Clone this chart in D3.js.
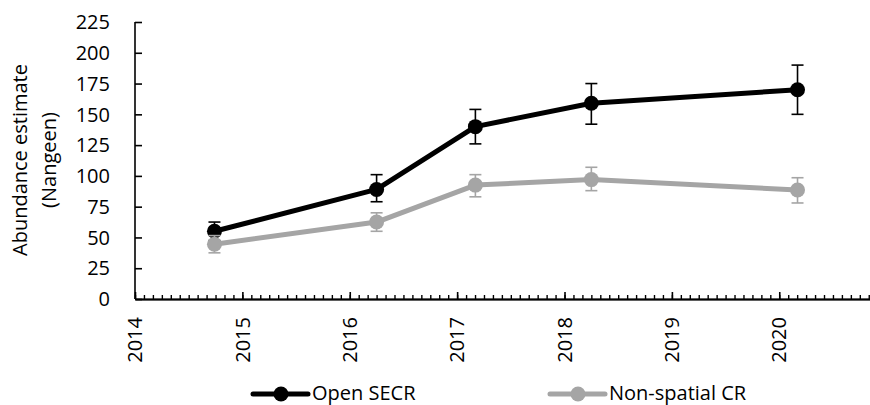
<!DOCTYPE html>
<html>
<head>
<meta charset="utf-8">
<script src="https://cdn.jsdelivr.net/npm/d3@7"></script>
<style>
  body { margin: 0; background: #fff; }
  svg text { font-family: "Open Sans", sans-serif; fill: #000; }
</style>
</head>
<body>
<svg id="chart" width="870" height="405"></svg>
<script>
// survey dates as decimal years
var years = [2014.74, 2016.25, 2017.17, 2018.25, 2020.17];

var secrEst   = [55, 89, 140, 159, 170];
var secrLow   = [47.5, 79, 126, 142, 150];
var secrHigh  = [62.5, 101, 154, 175, 190];

var crEst  = [44.5, 62.5, 92.5, 97, 88.5];
var crLow  = [37.5, 55, 83, 88, 78];
var crHigh = [51.5, 70, 101, 107, 98.5];

var yTicks = [0, 25, 50, 75, 100, 125, 150, 175, 200, 225];
var xTicks = [2014, 2015, 2016, 2017, 2018, 2019, 2020];
var seriesNames = ["Open SECR", "Non-spatial CR"];

var svg = d3.select("#chart");

var x = d3.scaleLinear()
  .domain([2014, 2020.845])
  .range([135, 870]);

var y = d3.scaleLinear()
  .domain([0, 225])
  .range([299, 22]);

//-------------
//- axes -
//-------------
var yAxis = svg.append("g")
  .attr("transform", "translate(" + x(2014) + ",0)")
  .call(d3.axisRight(y).tickValues(yTicks).tickSize(7).tickFormat(""));
yAxis.select(".domain").attr("d", "M0," + y(225) + "V" + y(0));
yAxis.selectAll("line, path").attr("stroke", "#000").attr("stroke-width", 1.6);

svg.append("g").selectAll("text")
  .data(yTicks)
  .enter().append("text")
  .attr("x", 110)
  .attr("y", function(d) { return y(d); })
  .attr("dy", "0.36em")
  .attr("text-anchor", "end")
  .style("font-size", "20px")
  .text(function(d) { return d; });

// monthly minor ticks
var minor = d3.range(0, Math.floor((2020.845 - 2014) * 12) + 1).map(function(i) { return 2014 + i / 12; });

var xMinor = svg.append("g")
  .attr("transform", "translate(0," + y(0) + ")")
  .call(d3.axisTop(x).tickValues(minor).tickSize(4).tickSizeOuter(0).tickFormat(""));
xMinor.selectAll("line, path").attr("stroke", "#000").attr("stroke-width", 1.4);

var xMajor = svg.append("g")
  .attr("transform", "translate(0," + y(0) + ")")
  .call(d3.axisTop(x).tickValues(xTicks).tickSize(7).tickSizeOuter(0).tickFormat(""));
xMajor.select(".domain").attr("stroke-width", 1.8);
xMajor.selectAll("line, path").attr("stroke", "#000");
xMajor.selectAll("line").attr("stroke-width", 1.6);

svg.append("g").selectAll("text")
  .data(xTicks)
  .enter().append("text")
  .attr("transform", function(d) { return "translate(" + x(d) + ",317) rotate(-90)"; })
  .attr("dy", "0.36em")
  .attr("text-anchor", "end")
  .style("font-size", "20px")
  .text(function(d) { return d; });

// y axis title
var yTitle = svg.append("text")
  .attr("transform", "translate(0," + 160 + ") rotate(-90)")
  .attr("text-anchor", "middle")
  .style("font-size", "20px");
yTitle.append("tspan").attr("x", 0).attr("y", 27).text("Abundance estimate");
yTitle.append("tspan").attr("x", 0).attr("y", 56).text("(Nangeen)");

//-------------
//- series -
//-------------
var line = d3.line()
  .x(function(d) { return x(d.year); })
  .y(function(d) { return y(d.est); });

function drawSeries(est, low, high, color) {
  var data = years.map(function(yr, i) {
    return {year: yr, est: est[i], low: low[i], high: high[i]};
  });
  var g = svg.append("g");

  g.append("path")
    .datum(data)
    .attr("fill", "none")
    .attr("stroke", color)
    .attr("stroke-width", 5)
    .attr("stroke-linejoin", "round")
    .attr("d", line);

  var err = g.selectAll(".err")
    .data(data)
    .enter().append("g")
    .attr("class", "err")
    .attr("stroke", color)
    .attr("stroke-width", 1.6);
  err.append("line")
    .attr("x1", function(d) { return x(d.year); })
    .attr("x2", function(d) { return x(d.year); })
    .attr("y1", function(d) { return y(d.low); })
    .attr("y2", function(d) { return y(d.high); });
  err.append("line")
    .attr("x1", function(d) { return x(d.year) - 6; })
    .attr("x2", function(d) { return x(d.year) + 6; })
    .attr("y1", function(d) { return y(d.low); })
    .attr("y2", function(d) { return y(d.low); });
  err.append("line")
    .attr("x1", function(d) { return x(d.year) - 6; })
    .attr("x2", function(d) { return x(d.year) + 6; })
    .attr("y1", function(d) { return y(d.high); })
    .attr("y2", function(d) { return y(d.high); });

  g.selectAll("circle")
    .data(data)
    .enter().append("circle")
    .attr("cx", function(d) { return x(d.year); })
    .attr("cy", function(d) { return y(d.est); })
    .attr("r", 7.5)
    .attr("fill", color);
}

var colors = ["#000000", "#a5a5a5"];
drawSeries(secrEst, secrLow, secrHigh, colors[0]);
drawSeries(crEst, crLow, crHigh, colors[1]);

//-------------
//- legend -
//-------------
var legendX = [253, 550];
var legend = svg.append("g").selectAll("g")
  .data(seriesNames)
  .enter().append("g")
  .attr("transform", function(d, i) { return "translate(" + legendX[i] + ",394)"; });
legend.append("line")
  .attr("x1", 0).attr("x2", 55)
  .attr("stroke", function(d, i) { return colors[i]; })
  .attr("stroke-width", 5)
  .attr("stroke-linecap", "round");
legend.append("circle")
  .attr("cx", 28).attr("r", 7.5)
  .attr("fill", function(d, i) { return colors[i]; });
legend.append("text")
  .attr("x", 59)
  .attr("y", 6)
  .style("font-size", "20px")
  .text(function(d) { return d; });
</script>
</body>
</html>
